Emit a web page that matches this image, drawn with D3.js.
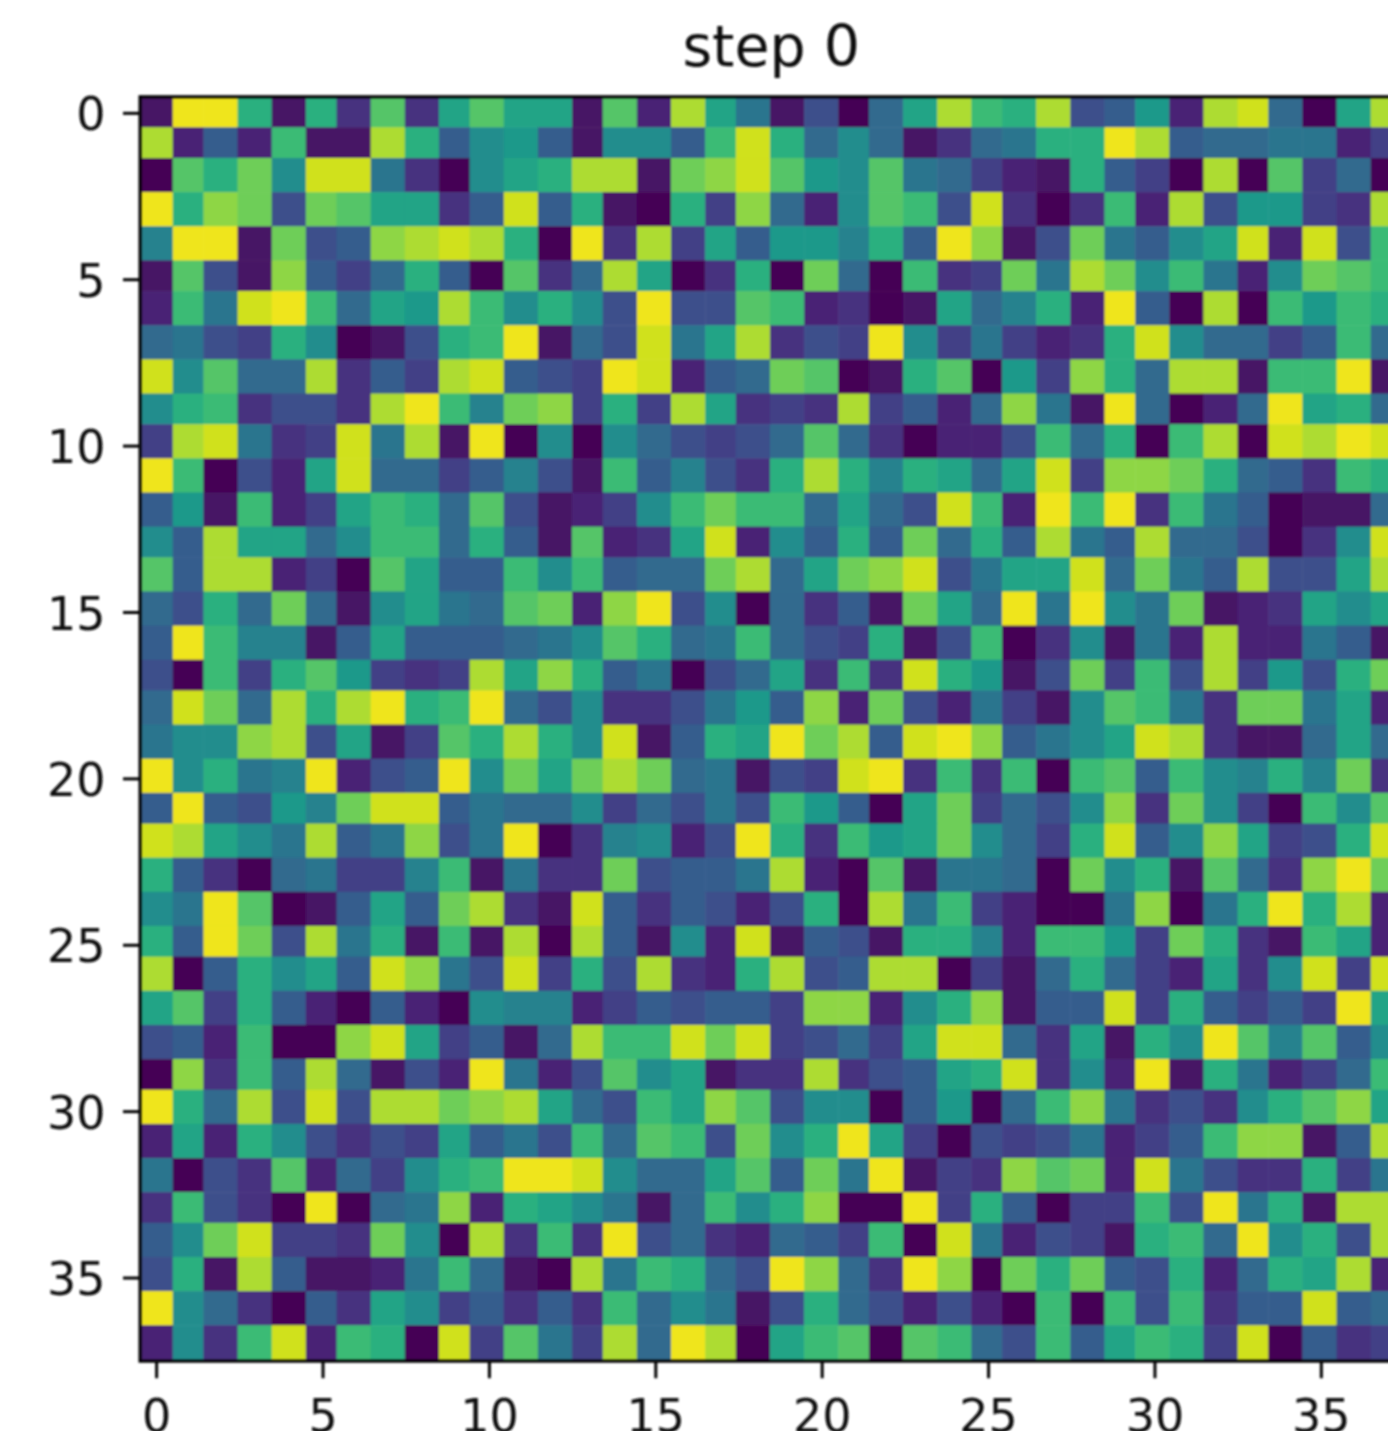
<!DOCTYPE html>
<html>
<head>
<meta charset="utf-8">
<script src="https://cdn.jsdelivr.net/npm/d3@7"></script>
<style>
html, body { margin: 0; padding: 0; background: #fff; overflow: hidden; }
svg { display: block; }
text { font-family: "DejaVu Sans", sans-serif; fill: #111; }
</style>
</head>
<body>
<svg width="1388" height="1431"></svg>
<script>
//Global config
var chartTitle = "step 0";
var axisTicks = [0, 5, 10, 15, 20, 25, 30, 35];
var gridIndex = d3.range(38);
var maxLevel = 20.5;

//Cell levels, one list per row, 0 (dark) to 20 (yellow)
var cellRows = [
[1,20,20,13,1,13,3,15,3,12,15,12,12,1,15,2,18,12,8,1,5,0,7,12,18,14,13,18,5,6,11,2,18,19,7,0,12,18],
[18,2,6,2,14,1,1,18,13,6,10,11,6,1,10,10,6,14,19,13,7,10,7,1,3,7,8,13,13,20,18,6,7,7,8,8,2,4],
[0,15,13,16,10,19,19,8,3,0,10,12,13,18,18,1,16,17,19,15,11,10,15,8,7,4,2,1,13,6,4,0,18,0,15,4,7,0],
[20,13,17,16,5,16,15,12,12,3,6,19,6,13,1,0,13,4,17,7,2,10,15,14,5,19,3,0,3,14,2,18,5,11,11,4,3,18],
[9,20,20,1,16,5,6,17,18,19,18,13,0,20,3,18,4,12,6,11,11,9,13,6,20,17,1,5,16,8,6,10,12,19,2,19,5,14],
[1,15,5,1,17,6,4,7,13,6,0,15,3,7,18,12,0,3,13,0,16,7,0,14,3,4,16,8,18,16,10,14,8,2,10,16,15,14],
[2,14,8,19,20,14,7,12,11,18,14,10,13,10,5,20,5,5,15,14,2,3,0,1,12,7,9,13,2,20,6,0,18,0,14,11,14,13],
[7,8,5,4,13,10,0,1,5,13,14,20,1,7,5,19,8,12,18,3,5,4,20,10,4,8,4,2,3,13,19,10,7,7,4,6,14,7],
[19,10,15,7,7,18,3,6,4,18,19,6,5,4,20,19,2,6,7,16,15,0,1,13,15,0,11,4,17,13,7,18,18,1,14,14,20,1],
[10,13,14,3,5,5,3,18,20,14,9,16,17,4,13,4,18,12,3,4,3,18,4,6,2,7,17,8,1,20,7,0,2,7,20,12,13,7],
[4,18,19,8,3,4,19,8,18,1,20,0,10,0,10,7,5,4,5,7,15,7,3,0,2,2,5,14,7,13,0,14,18,0,19,18,20,19],
[20,14,0,5,2,12,19,7,7,4,6,9,5,1,14,6,9,5,3,13,18,13,9,13,12,7,12,19,4,17,17,16,13,7,6,3,14,13],
[6,11,1,14,2,4,12,14,13,7,15,5,1,2,4,10,14,16,14,14,7,12,7,5,19,14,2,20,14,20,3,14,8,6,0,1,1,7],
[10,6,18,12,12,7,10,14,14,7,13,6,1,15,2,3,12,19,2,10,6,13,6,16,7,13,6,18,8,6,18,7,7,5,0,3,10,19],
[15,6,18,18,2,4,0,15,12,6,6,14,10,14,6,7,7,16,18,7,12,16,17,19,5,8,12,12,19,7,16,8,6,18,5,5,12,18],
[7,5,13,7,16,7,1,10,12,8,7,15,16,2,17,20,5,10,0,7,3,6,1,16,12,7,20,8,20,10,8,16,1,2,3,12,10,12],
[6,20,14,9,9,1,6,12,6,6,6,7,8,10,15,13,7,8,14,7,5,4,13,1,5,14,0,3,10,1,8,2,18,2,2,8,6,1],
[5,0,14,4,13,15,11,4,3,4,18,12,17,13,6,8,0,5,7,12,3,14,3,19,13,11,1,5,16,4,14,5,18,4,11,5,13,16],
[7,19,16,7,18,13,18,20,13,14,20,7,5,10,3,3,5,8,11,6,17,2,16,5,2,8,4,1,10,15,14,8,3,16,16,8,12,2],
[8,10,10,17,18,5,12,1,4,15,13,18,13,10,19,1,6,13,12,20,16,18,6,19,20,17,6,8,10,12,19,18,3,1,1,7,12,7],
[20,10,13,8,9,20,2,5,6,20,10,16,12,16,18,16,7,8,1,5,4,19,20,3,14,3,14,0,14,15,6,14,10,9,13,9,16,3],
[6,20,6,5,11,9,16,19,19,6,8,7,7,10,4,7,5,8,5,14,11,6,0,12,16,4,7,5,10,17,3,16,10,4,0,14,10,15],
[19,18,12,10,8,18,6,8,17,5,8,20,0,3,9,10,2,5,20,13,3,14,11,12,16,10,7,4,13,19,6,10,17,12,4,5,13,19],
[13,6,3,0,7,8,4,4,9,14,1,8,3,3,16,5,6,6,8,18,2,0,15,1,8,8,7,0,16,10,13,1,15,7,3,17,20,16],
[10,8,20,15,0,1,6,12,6,16,18,3,1,19,6,3,6,5,2,5,13,0,18,8,14,4,2,0,0,8,17,0,8,13,20,13,18,2],
[13,6,20,16,5,18,8,13,1,14,1,18,0,18,6,1,10,2,19,1,6,5,1,13,13,9,2,14,14,11,4,16,13,3,1,14,12,2],
[18,0,6,13,10,12,6,19,17,8,5,19,4,13,5,18,3,2,13,18,5,6,18,18,0,4,1,7,13,7,4,2,12,3,10,19,4,19],
[12,15,4,13,6,2,0,6,2,0,10,9,9,2,4,6,5,6,6,4,17,17,2,10,13,17,1,6,6,19,4,13,6,4,6,4,20,12],
[5,6,2,14,0,0,17,19,12,4,6,1,7,18,14,14,19,16,19,4,5,7,4,12,19,19,7,3,12,1,13,10,20,15,9,15,6,10],
[0,17,3,14,6,18,7,1,5,2,20,8,2,5,15,10,12,1,3,3,18,3,5,6,12,13,19,3,10,2,20,1,13,8,2,4,7,14],
[20,13,7,18,5,19,5,18,18,16,17,18,12,7,5,14,12,17,15,5,10,10,0,6,11,0,7,14,17,8,3,5,3,10,13,15,17,12],
[2,12,2,13,10,5,3,5,4,12,6,8,5,14,7,15,14,5,16,10,13,20,12,4,0,5,4,5,8,2,4,6,14,17,17,1,6,18],
[8,0,5,3,15,2,7,4,10,13,14,20,20,19,10,7,7,12,15,6,16,8,20,1,4,3,17,15,16,2,19,8,5,3,3,13,4,8],
[3,14,5,3,0,20,0,7,8,17,2,13,12,10,8,1,7,14,10,13,17,0,0,20,4,13,6,0,4,4,14,5,20,8,13,1,18,18],
[6,10,16,19,4,4,3,16,10,0,18,3,14,3,20,5,7,3,2,7,6,4,14,0,19,8,2,5,4,1,13,14,7,20,10,13,5,18],
[5,13,1,18,6,1,1,2,8,14,7,1,0,18,8,14,13,7,5,20,17,7,3,20,17,0,16,13,16,6,5,13,2,7,13,12,18,2],
[20,10,7,3,0,6,3,12,10,4,6,3,6,3,14,7,10,8,1,5,13,7,5,2,5,2,0,14,0,14,5,14,3,6,6,19,6,7],
[2,10,3,14,19,2,14,13,0,19,4,15,8,4,18,7,20,18,0,12,14,15,0,15,14,7,5,14,6,12,14,13,4,19,0,6,3,4]
];

var plotLeft = 140;
var plotTop = 96.7;
var cellStep = 33.277;
var plotRight = plotLeft + cellStep * 38;
var plotBottom = plotTop + cellStep * 38;
//The picture was enlarged from a small raster, so cell edges sit on its pixel grid
var sourcePixel = 3.413;

var x = d3.scaleBand().domain(gridIndex).range([plotLeft, plotRight]);
var y = d3.scaleBand().domain(gridIndex).range([plotTop, plotBottom]);
var colour = d3.scaleSequential(d3.interpolateViridis).domain([0, maxLevel]);

var svg = d3.select("svg");
var defs = svg.append("defs");

defs.append("clipPath").attr("id", "plotClip")
    .append("rect")
    .attr("x", plotLeft).attr("y", plotTop)
    .attr("width", plotRight - plotLeft).attr("height", plotBottom - plotTop);

defs.append("filter").attr("id", "softCells")
    .attr("filterUnits", "userSpaceOnUse")
    .attr("x", 0).attr("y", 0).attr("width", 1500).attr("height", 1500)
    .append("feGaussianBlur").attr("stdDeviation", 1);

defs.append("filter").attr("id", "softInk")
    .attr("filterUnits", "userSpaceOnUse")
    .attr("x", 0).attr("y", 0).attr("width", 1500).attr("height", 1500)
    .append("feGaussianBlur").attr("stdDeviation", 0.8);

function cellEdge(scale, firstEdge, i) {
    if (i === 38) return scale.range()[1] + 4;
    return firstEdge + sourcePixel * Math.floor((scale(i) - scale(1)) / sourcePixel + 0.01);
}

var xEdge = function(i) { return cellEdge(x, 172.7, i); };
var yEdge = function(i) { return cellEdge(y, 127.3, i); };

drawCells();
drawAxes();

function drawCells() {
    var cells = [];
    cellRows.forEach(function(row, r) {
        row.forEach(function(level, c) {
            cells.push({ r: r, c: c, level: level });
        });
    });

    svg.append("g")
        .attr("clip-path", "url(#plotClip)")
        .append("g")
        .attr("filter", "url(#softCells)")
        .selectAll("rect")
        .data(cells)
        .enter().append("rect")
        .attr("x", function(d) { return xEdge(d.c); })
        .attr("y", function(d) { return yEdge(d.r); })
        .attr("width", function(d) { return xEdge(d.c + 1) - xEdge(d.c) + 0.5; })
        .attr("height", function(d) { return yEdge(d.r + 1) - yEdge(d.r) + 0.5; })
        .attr("fill", function(d) { return colour(d.level); });
}

function drawAxes() {
    var ink = svg.append("g").attr("filter", "url(#softInk)");

    ink.append("rect")
        .attr("x", plotLeft).attr("y", plotTop)
        .attr("width", plotRight - plotLeft).attr("height", plotBottom - plotTop)
        .attr("fill", "none")
        .attr("stroke", "#000")
        .attr("stroke-width", 3);

    var bottomAxis = d3.axisBottom(x).tickValues(axisTicks).tickSize(17).tickSizeOuter(0);
    var leftAxis = d3.axisLeft(y).tickValues(axisTicks).tickSize(17).tickSizeOuter(0);

    var gx = ink.append("g").attr("transform", "translate(0," + plotBottom + ")").call(bottomAxis);
    var gy = ink.append("g").attr("transform", "translate(" + plotLeft + ",0)").call(leftAxis);

    gx.selectAll(".domain").remove();
    gy.selectAll(".domain").remove();
    ink.selectAll(".tick line").attr("stroke", "#000").attr("stroke-width", 3);

    gx.selectAll(".tick text")
        .attr("font-size", 46)
        .attr("y", 70.5)
        .attr("dy", 0)
        .attr("dx", 0)
        .attr("font-family", "DejaVu Sans");

    gy.selectAll(".tick text")
        .attr("font-size", 46)
        .attr("x", -34.5)
        .attr("dy", "0.37em")
        .attr("font-family", "DejaVu Sans");

    ink.append("text")
        .attr("x", (plotLeft + plotRight) / 2 - 1)
        .attr("y", 66)
        .attr("text-anchor", "middle")
        .attr("font-size", 57)
        .text(chartTitle);
}
</script>
</body>
</html>
